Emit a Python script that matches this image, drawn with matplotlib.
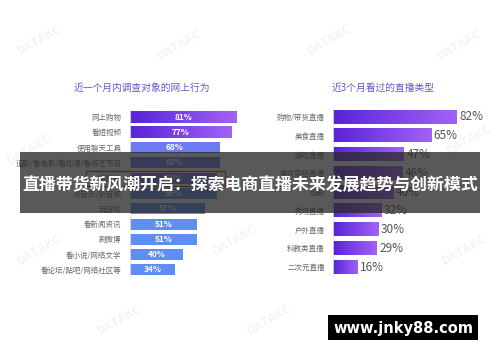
import matplotlib
matplotlib.use("Agg")
import matplotlib.pyplot as plt
from matplotlib.patches import Rectangle
from matplotlib.colors import LinearSegmentedColormap
import numpy as np

plt.rcParams["font.family"] = ["Noto Sans CJK SC", "DejaVu Sans"]

W, H = 500, 362

left_title = "近一个月内调查对象的网上行为"
left_labels = ["网上购物", "看短视频", "使用聊天工具", "追剧/看电影/看动漫/看综艺节目", "看直播",
               "听音乐/听音频", "玩游戏", "看新闻资讯", "刷微博", "看小说/网络文学", "看论坛/贴吧/网络社区等"]
left_values = [81, 77, 68, 68, 66, 66, 57, 51, 51, 40, 34]

right_title = "近3个月看过的直播类型"
right_labels = ["购物/带货直播", "美食直播", "游戏直播", "美妆穿搭直播", "短剧",
                "秀场直播", "户外直播", "科教类直播", "二次元直播"]
right_values = [82, 65, 47, 46, 40, 32, 30, 29, 16]

banner_text = "直播带货新风潮开启：探索电商直播未来发展趋势与创新模式"
site_text = "www.jnky88.com"

purple = LinearSegmentedColormap.from_list("p", ["#5824d8", "#a262f6"])
grad = np.linspace(0, 1, 64).reshape(1, -1)


def fig_rect(x0, y0, x1, y1):
    # pixel box (top-left origin) -> figure fraction [l, b, w, h]
    return [x0 / W, 1 - y1 / H, (x1 - x0) / W, (y1 - y0) / H]


fig = plt.figure(figsize=(W / 100, H / 100), dpi=100)
fig.patch.set_facecolor("white")

# faint watermarks, behind everything
for wx, wy in [(40, 40), (180, 45), (330, 40), (460, 45), (30, 150), (470, 140),
               (40, 250), (235, 240), (465, 250), (120, 320), (270, 320)]:
    fig.text(wx / W, 1 - wy / H, "DATAKC", color="#f5f3f9", fontsize=9, rotation=30,
             ha="center", va="center", fontweight="bold", zorder=-5)

# ---- left chart
axl = fig.add_axes(fig_rect(130, 109.4, 262, 277.6))
n = len(left_values)
bh = 0.72
for i, v in enumerate(left_values):
    if i < 2:
        axl.imshow(grad, extent=[0, v, i - bh / 2, i + bh / 2], cmap=purple, aspect="auto", zorder=2)
    else:
        c = "#6e7af1" if i < 5 else "#5f8ef1"
        axl.barh(i, v, height=bh, color=c, zorder=2)
    axl.text(v / 2, i, f"{v}%", color="white", fontsize=6, fontweight="bold",
             ha="center", va="center", zorder=3)
axl.set_xlim(0, 100)
axl.set_ylim(n - 0.5, -0.5)
axl.set_yticks(range(n))
axl.set_yticklabels(left_labels, fontsize=5.4, color="#666666")
axl.set_xticks([])
axl.tick_params(axis="y", length=0, pad=6)
for s in ["top", "right", "bottom"]:
    axl.spines[s].set_visible(False)
axl.spines["left"].set_color("#e4e4e4")
axl.spines["left"].set_linewidth(0.6)
axl.patch.set_alpha(0)
axl.add_patch(Rectangle((-33, 3.5), 105, 1.0, fill=False, edgecolor="#b8332d",
                        linewidth=0.9, clip_on=False, zorder=4))
fig.text(142 / W, 1 - 88 / H, left_title, color="#6a55c8", fontsize=7, ha="center", va="center")

# ---- right chart
axr = fig.add_axes(fig_rect(333, 107.6, 484, 276.4))
m = len(right_values)
bh = 0.7
for i, v in enumerate(right_values):
    axr.imshow(grad, extent=[0, v, i - bh / 2, i + bh / 2], cmap=purple, aspect="auto", zorder=2)
    axr.text(v + 1.8, i, f"{v}%", color="#555555", fontsize=8.5, ha="left", va="center", zorder=3)
axr.set_xlim(0, 100)
axr.set_ylim(m - 0.5, -0.5)
axr.set_yticks(range(m))
axr.set_yticklabels(right_labels, fontsize=5.4, color="#666666")
axr.set_xticks([])
axr.tick_params(axis="y", length=0, pad=6)
for s in ["top", "right", "bottom"]:
    axr.spines[s].set_visible(False)
axr.spines["left"].set_color("#e4e4e4")
axr.spines["left"].set_linewidth(0.6)
axr.patch.set_alpha(0)
fig.text(383 / W, 1 - 88 / H, right_title, color="#6a55c8", fontsize=7, ha="center", va="center")

# ---- banner overlay
b = fig_rect(20, 152, 480, 213)
fig.add_artist(Rectangle((b[0], b[1]), b[2], b[3], transform=fig.transFigure,
                         facecolor="#2a2a2a", alpha=0.78, edgecolor="none", zorder=10))
fig.text(250 / W, 1 - 185 / H, banner_text, color="white", fontsize=12.2, fontweight="bold",
         ha="center", va="center", zorder=11)

# ---- site tag
s = fig_rect(328, 315, 478, 340)
fig.add_artist(Rectangle((s[0], s[1]), s[2], s[3], transform=fig.transFigure,
                         facecolor="black", edgecolor="none", zorder=10))
fig.text(403 / W, 1 - 328 / H, site_text, color="white", fontsize=10.5, fontweight="bold",
         family="DejaVu Sans", ha="center", va="center", zorder=11)

fig.savefig("out.png", dpi=100)
